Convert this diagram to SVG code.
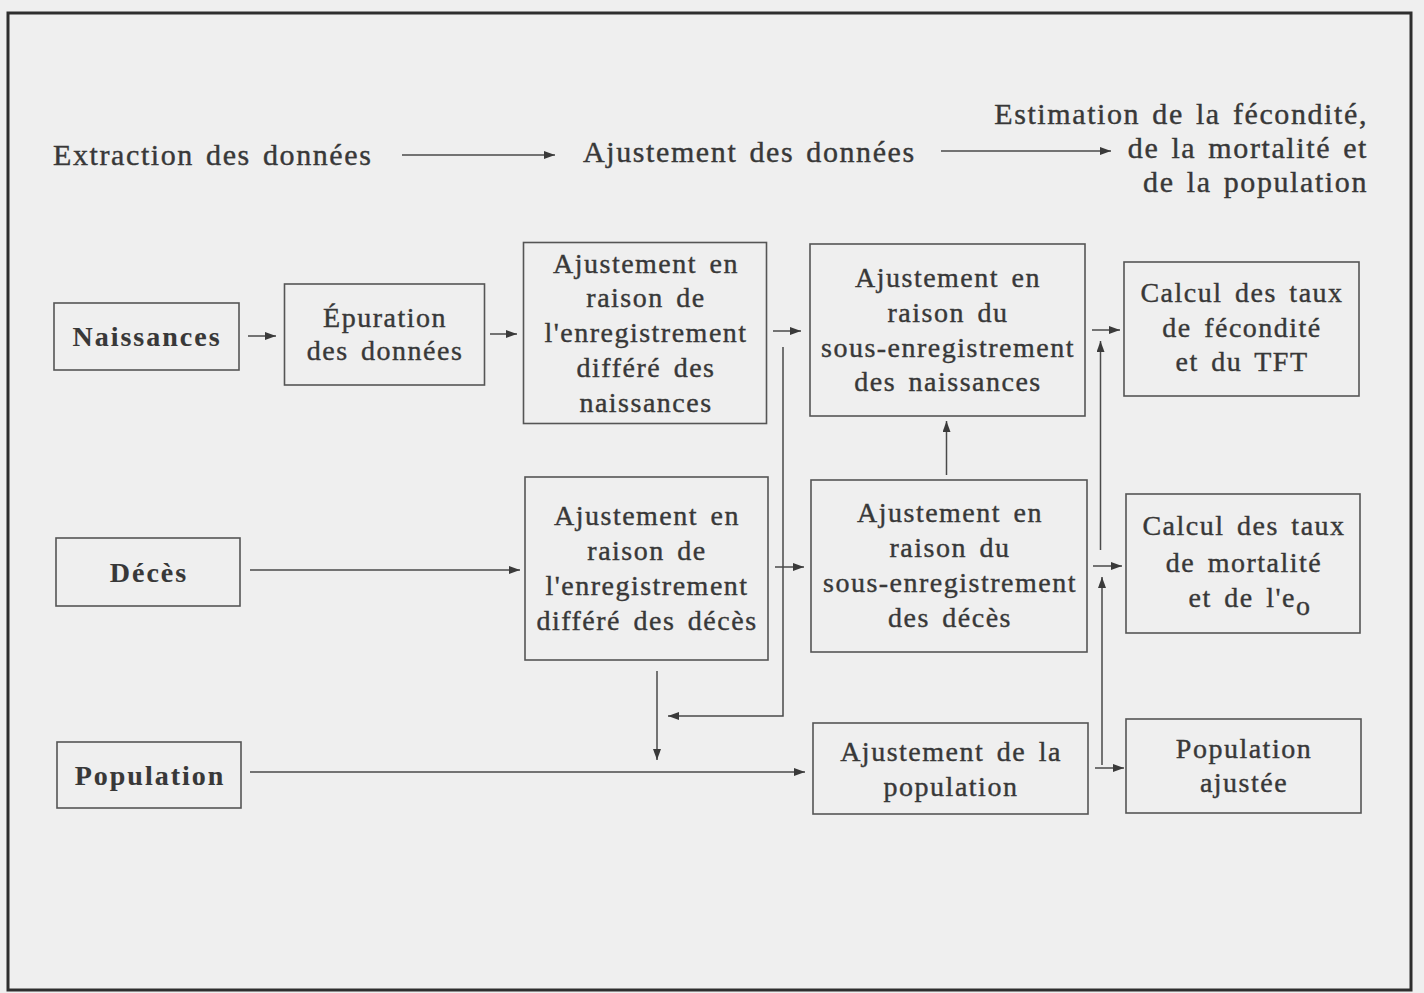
<svg xmlns="http://www.w3.org/2000/svg" width="1424" height="993" viewBox="0 0 1424 993">
<defs>
<marker id="ah" viewBox="0 0 11 8" refX="11" refY="4" markerWidth="11" markerHeight="8" markerUnits="userSpaceOnUse" orient="auto">
<path d="M0,0 L11,4 L0,8 z" fill="#3a3a3a"/>
</marker>
<style>
.bg{fill:#efefef}
.frame{fill:none;stroke:#2e2e2e;stroke-width:3}
.box{fill:none;stroke:#555;stroke-width:1.6}
text{font-family:'Liberation Serif','Times New Roman',Tinos,'DejaVu Serif',serif;font-size:28px;fill:#383838;stroke:#383838;stroke-width:0.4px;letter-spacing:1.5px;word-spacing:4px;text-anchor:middle}
.b{font-weight:bold;letter-spacing:2px;stroke-width:0.1px}
.h{font-size:30px;letter-spacing:1.6px;word-spacing:3px}
.l{text-anchor:start}
.r{text-anchor:end}
.c{fill:none;stroke:#4a4a4a;stroke-width:1.5;marker-end:url(#ah)}
</style>
</defs>
<rect class="bg" x="0" y="0" width="1424" height="993"/>
<rect class="frame" x="8" y="13" width="1403" height="977"/>

<g id="header">
<text class="h l" x="53" y="165">Extraction des données</text>
<text class="h l" x="583" y="162">Ajustement des données</text>
<text class="h r" x="1368" y="124">Estimation de la fécondité,</text>
<text class="h r" x="1368" y="158">de la mortalité et</text>
<text class="h r" x="1368" y="192">de la population</text>
</g>

<g id="connectors">
<path class="c" d="M402,155 H555"/>
<path class="c" d="M941,151 H1111"/>
<path class="c" d="M248,336 H276"/>
<path class="c" d="M490,334 H517"/>
<path class="c" d="M773,331 H801"/>
<path class="c" d="M783,347 V716 H668"/>
<path class="c" d="M250,570 H520"/>
<path class="c" d="M775,567 H804"/>
<path class="c" d="M946.5,475 V421"/>
<path class="c" d="M657,671 V760"/>
<path class="c" d="M250,772 H805"/>
<path class="c" d="M1092,330 H1120"/>
<path class="c" d="M1093,566 H1122"/>
<path class="c" d="M1095,768 H1124"/>
<path class="c" d="M1100.5,550 V341"/>
<path class="c" d="M1102,765 V577"/>
</g>

<g id="naissances">
<rect class="box" x="54" y="303" width="185" height="67"/>
<text class="b" x="147" y="346">Naissances</text>
</g>
<g id="epuration">
<rect class="box" x="284.5" y="284" width="200" height="101"/>
<text x="385" y="327">Épuration</text>
<text x="385" y="360">des données</text>
</g>
<g id="differe-naissances">
<rect class="box" x="523.5" y="242.5" width="243" height="181"/>
<text x="646" y="273">Ajustement en</text>
<text x="646" y="307">raison de</text>
<text x="646" y="342">l'enregistrement</text>
<text x="646" y="377">différé des</text>
<text x="646" y="412">naissances</text>
</g>
<g id="sous-naissances">
<rect class="box" x="810" y="244" width="275" height="172"/>
<text x="948" y="287">Ajustement en</text>
<text x="948" y="322">raison du</text>
<text x="948" y="357">sous-enregistrement</text>
<text x="948" y="391">des naissances</text>
</g>
<g id="calcul-fecondite">
<rect class="box" x="1124" y="262" width="235" height="134"/>
<text x="1242" y="302">Calcul des taux</text>
<text x="1242" y="337">de fécondité</text>
<text x="1242" y="371">et du TFT</text>
</g>

<g id="deces">
<rect class="box" x="56" y="538" width="184" height="68"/>
<text class="b" x="149" y="582">Décès</text>
</g>
<g id="differe-deces">
<rect class="box" x="525" y="477" width="243" height="183"/>
<text x="647" y="525">Ajustement en</text>
<text x="647" y="560">raison de</text>
<text x="647" y="595">l'enregistrement</text>
<text x="647" y="630">différé des décès</text>
</g>
<g id="sous-deces">
<rect class="box" x="811" y="480" width="276" height="172"/>
<text x="950" y="522">Ajustement en</text>
<text x="950" y="557">raison du</text>
<text x="950" y="592">sous-enregistrement</text>
<text x="950" y="627">des décès</text>
</g>
<g id="calcul-mortalite">
<rect class="box" x="1126" y="494" width="234" height="139"/>
<text x="1244" y="535">Calcul des taux</text>
<text x="1244" y="572">de mortalité</text>
<text x="1250" y="607">et de l'e<tspan dy="8">o</tspan></text>
</g>

<g id="population">
<rect class="box" x="57" y="742" width="184" height="66"/>
<text class="b" x="150" y="785">Population</text>
</g>
<g id="ajust-population">
<rect class="box" x="813" y="723" width="275" height="91"/>
<text x="951" y="761">Ajustement de la</text>
<text x="951" y="796">population</text>
</g>
<g id="population-ajustee">
<rect class="box" x="1126" y="719" width="235" height="94"/>
<text x="1244" y="758">Population</text>
<text x="1244" y="792">ajustée</text>
</g>
</svg>
